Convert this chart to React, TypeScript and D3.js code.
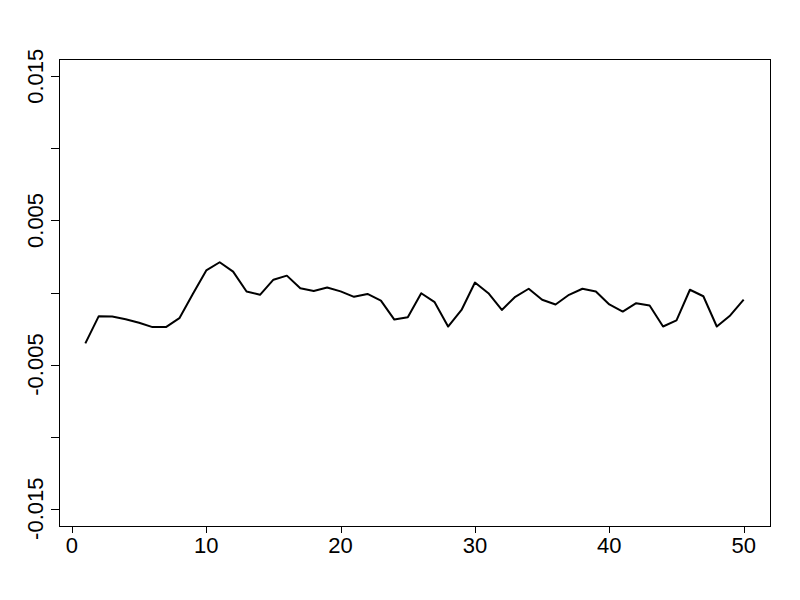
import React, { useRef, useEffect } from 'react';
import * as d3 from 'd3';

const values = [
  -0.00353, -0.00164, -0.00167, -0.00185, -0.0021, -0.0024, -0.0024, -0.00178, -0.0001, 0.00153,
  0.0021, 0.00145, 0.00007, -0.00016, 0.00089, 0.00117, 0.00029, 0.00011, 0.00035, 0.00008,
  -0.0003, -0.0001, -0.00056, -0.00188, -0.00171, -0.00005, -0.00067, -0.00236, -0.00121, 0.00069,
  -0.00005, -0.00121, -0.0003, 0.00026, -0.0005, -0.00083, -0.00016, 0.00026, 0.00007, -0.00083,
  -0.00132, -0.00074, -0.0009, -0.00236, -0.00194, 0.00019, -0.00026, -0.00236, -0.00159, -0.0005,
];
const xTicks = [0, 10, 20, 30, 40, 50];
const yTicks = [-0.015, -0.01, -0.005, 0, 0.005, 0.01, 0.015];
const yLabels = [-0.015, -0.005, 0.005, 0.015];

function App() {
  const ref = useRef<SVGSVGElement>(null);

  useEffect(() => {
    const width = 800;
    const height = 600;
    const left = 59, right = 770, top = 59, bottom = 526;
    const font = 'Liberation Sans, Arial, sans-serif';

    const data = values.map((v, i) => ({ i: i + 1, v }));

    const x = d3.scaleLinear().domain([-0.96, 51.96]).range([left, right]);
    const y = d3.scaleLinear().domain([-0.0162, 0.0162]).range([bottom, top]);

    const svg = d3.select(ref.current);
    svg.selectAll('*').remove();

    svg.append('rect')
      .attr('width', width).attr('height', height).attr('fill', 'white');

    svg.append('rect')
      .attr('x', left + 0.5).attr('y', top + 0.5)
      .attr('width', right - left).attr('height', bottom - top)
      .attr('fill', 'none').attr('stroke', 'black').attr('stroke-width', 1);

    // x axis
    const gx = svg.append('g');
    gx.append('line')
      .attr('x1', x(0)).attr('x2', x(50))
      .attr('y1', bottom + 0.5).attr('y2', bottom + 0.5)
      .attr('stroke', 'black');
    gx.selectAll('line.tick').data(xTicks).join('line')
      .attr('class', 'tick')
      .attr('x1', d => Math.round(x(d)) + 0.5).attr('x2', d => Math.round(x(d)) + 0.5)
      .attr('y1', bottom).attr('y2', bottom + 7)
      .attr('stroke', 'black');
    gx.selectAll('text').data(xTicks).join('text')
      .attr('x', d => x(d)).attr('y', 553)
      .attr('text-anchor', 'middle')
      .attr('font-family', font).attr('font-size', 22)
      .text(d => String(d));

    // y axis
    const gy = svg.append('g');
    gy.append('line')
      .attr('x1', left + 0.5).attr('x2', left + 0.5)
      .attr('y1', y(-0.015)).attr('y2', y(0.015))
      .attr('stroke', 'black');
    gy.selectAll('line.tick').data(yTicks).join('line')
      .attr('class', 'tick')
      .attr('x1', left - 8).attr('x2', left)
      .attr('y1', d => Math.round(y(d)) + 0.5).attr('y2', d => Math.round(y(d)) + 0.5)
      .attr('stroke', 'black');
    gy.selectAll('text').data(yLabels).join('text')
      .attr('transform', d => `translate(42.5,${y(d)}) rotate(-90)`)
      .attr('text-anchor', 'middle')
      .attr('font-family', font).attr('font-size', 22)
      .text(d => d3.format('.3f')(d).replace('−', '-'));

    const line = d3.line<{ i: number; v: number }>()
      .x(d => x(d.i))
      .y(d => y(d.v));

    svg.append('path')
      .attr('fill', 'none')
      .attr('stroke', 'black')
      .attr('stroke-width', 2)
      .attr('stroke-linejoin', 'round')
      .attr('d', line(data));
  }, []);

  return (
    <svg ref={ref} width={800} height={600} style={{ display: 'block', position: 'absolute', left: 0, top: 0 }} />
  );
}

export default App;
